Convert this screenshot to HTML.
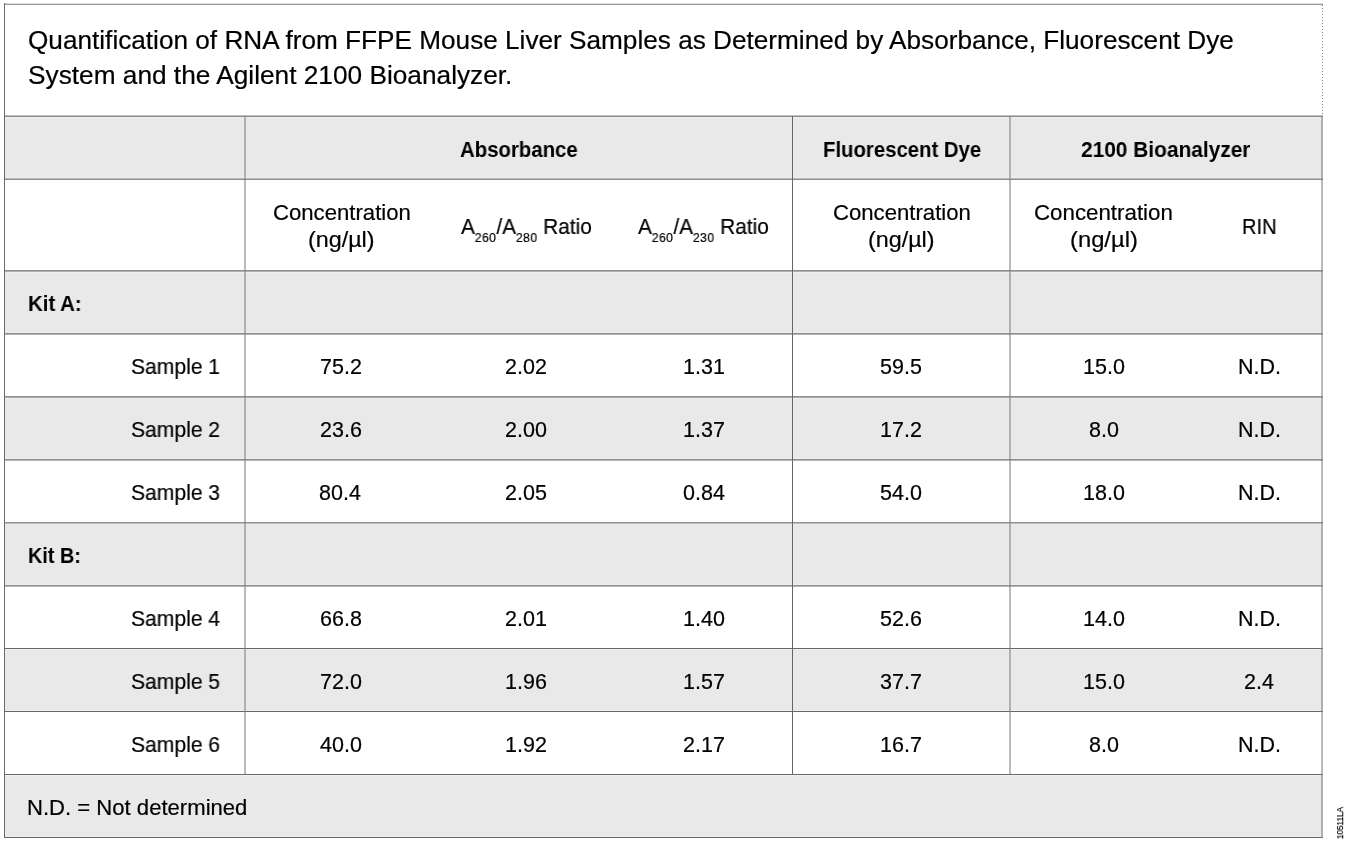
<!DOCTYPE html><html><head><meta charset="utf-8"><style>html,body{margin:0;padding:0;background:#fff;width:1350px;height:846px;overflow:hidden;position:relative}
.t{position:absolute;white-space:nowrap;will-change:transform;-webkit-text-stroke:0.2px #000;font-family:"Liberation Sans",sans-serif;color:#000;transform-origin:0 0}
</style></head><body><div style="position:absolute;left:4px;top:116px;width:1319px;height:63px;background:#e9e9e9"></div><div style="position:absolute;left:4px;top:270px;width:1319px;height:63px;background:#e9e9e9"></div><div style="position:absolute;left:4px;top:396px;width:1319px;height:63px;background:#e9e9e9"></div><div style="position:absolute;left:4px;top:522px;width:1319px;height:63px;background:#e9e9e9"></div><div style="position:absolute;left:4px;top:648px;width:1319px;height:63px;background:#e9e9e9"></div><div style="position:absolute;left:4px;top:774px;width:1319px;height:63px;background:#e9e9e9"></div><div style="position:absolute;left:4px;top:3px;width:1319px;height:1px;background:#dcdcdc"></div><div style="position:absolute;left:4px;top:4px;width:1319px;height:1px;background:#989898"></div><div style="position:absolute;left:5px;top:117px;width:1316px;height:1px;background:#f0f0f0"></div><div style="position:absolute;left:4px;top:115px;width:1319px;height:1px;background:#c0c0c0"></div><div style="position:absolute;left:4px;top:116px;width:1319px;height:1px;background:#8c8c8c"></div><div style="position:absolute;left:5px;top:177px;width:1316px;height:1px;background:#f0f0f0"></div><div style="position:absolute;left:4px;top:178px;width:1319px;height:1px;background:#bbbbbb"></div><div style="position:absolute;left:4px;top:179px;width:1319px;height:1px;background:#8e8e8e"></div><div style="position:absolute;left:5px;top:272px;width:1316px;height:1px;background:#f0f0f0"></div><div style="position:absolute;left:4px;top:271px;width:1319px;height:1px;background:#aeaeae"></div><div style="position:absolute;left:4px;top:270px;width:1319px;height:1px;background:#8f8f8f"></div><div style="position:absolute;left:5px;top:332px;width:1316px;height:1px;background:#f0f0f0"></div><div style="position:absolute;left:4px;top:334px;width:1319px;height:1px;background:#b5b5b5"></div><div style="position:absolute;left:4px;top:333px;width:1319px;height:1px;background:#8a8a8a"></div><div style="position:absolute;left:5px;top:398px;width:1316px;height:1px;background:#f0f0f0"></div><div style="position:absolute;left:4px;top:397px;width:1319px;height:1px;background:#aaaaaa"></div><div style="position:absolute;left:4px;top:396px;width:1319px;height:1px;background:#919191"></div><div style="position:absolute;left:5px;top:458px;width:1316px;height:1px;background:#f0f0f0"></div><div style="position:absolute;left:4px;top:460px;width:1319px;height:1px;background:#b5b5b5"></div><div style="position:absolute;left:4px;top:459px;width:1319px;height:1px;background:#8e8e8e"></div><div style="position:absolute;left:5px;top:524px;width:1316px;height:1px;background:#f0f0f0"></div><div style="position:absolute;left:4px;top:523px;width:1319px;height:1px;background:#bbbbbb"></div><div style="position:absolute;left:4px;top:522px;width:1319px;height:1px;background:#939393"></div><div style="position:absolute;left:5px;top:584px;width:1316px;height:1px;background:#f0f0f0"></div><div style="position:absolute;left:4px;top:586px;width:1319px;height:1px;background:#b8b8b8"></div><div style="position:absolute;left:4px;top:585px;width:1319px;height:1px;background:#8f8f8f"></div><div style="position:absolute;left:5px;top:649px;width:1316px;height:1px;background:#f0f0f0"></div><div style="position:absolute;left:4px;top:648px;width:1319px;height:1px;background:#686868"></div><div style="position:absolute;left:5px;top:710px;width:1316px;height:1px;background:#f0f0f0"></div><div style="position:absolute;left:4px;top:711px;width:1319px;height:1px;background:#666666"></div><div style="position:absolute;left:5px;top:775px;width:1316px;height:1px;background:#f0f0f0"></div><div style="position:absolute;left:4px;top:774px;width:1319px;height:1px;background:#6a6a6a"></div><div style="position:absolute;left:5px;top:836px;width:1316px;height:1px;background:#f0f0f0"></div><div style="position:absolute;left:4px;top:837px;width:1319px;height:1px;background:#666666"></div><div style="position:absolute;left:4px;top:3px;width:1px;height:835px;background:#6a6a6a"></div><div style="position:absolute;left:1321px;top:116px;width:2px;height:722px;background:rgba(129,129,129,0.55)"></div><div style="position:absolute;left:1322px;top:5px;width:1px;height:111px;background:repeating-linear-gradient(to bottom,#8a8a8a 0,#8a8a8a 1px,transparent 1px,transparent 3px)"></div><div style="position:absolute;left:244px;top:116px;width:2px;height:658px;background:rgba(129,129,129,0.55)"></div><div style="position:absolute;left:792px;top:116px;width:1px;height:658px;background:#676767"></div><div style="position:absolute;left:1009px;top:116px;width:2px;height:658px;background:rgba(129,129,129,0.55)"></div><div class="t" style="left:27.57px;top:28.00px;font-size:25.00px;line-height:25.00px;font-weight:normal;transform:scaleX(1.0468)">Quantification of RNA from FFPE Mouse Liver Samples as Determined by Absorbance, Fluorescent Dye</div><div class="t" style="left:27.57px;top:63.00px;font-size:25.00px;line-height:25.00px;font-weight:normal;transform:scaleX(1.0498)">System and the Agilent 2100 Bioanalyzer.</div><div class="t" style="left:459.64px;top:140.00px;font-size:21.50px;line-height:21.50px;font-weight:bold;-webkit-text-stroke:0;transform:scaleX(0.9476)">Absorbance</div><div class="t" style="left:822.63px;top:140.00px;font-size:21.50px;line-height:21.50px;font-weight:bold;-webkit-text-stroke:0;transform:scaleX(0.9461)">Fluorescent Dye</div><div class="t" style="left:1081.03px;top:140.00px;font-size:21.50px;line-height:21.50px;font-weight:bold;-webkit-text-stroke:0;transform:scaleX(0.9711)">2100 Bioanalyzer</div><div class="t" style="left:272.58px;top:203.00px;font-size:21.50px;line-height:21.50px;font-weight:normal;transform:scaleX(1.0296)">Concentration</div><div class="t" style="left:307.73px;top:230.00px;font-size:21.50px;line-height:21.50px;font-weight:normal;transform:scaleX(1.0847)">(ng/&micro;l)</div><div class="t" style="left:832.58px;top:203.00px;font-size:21.50px;line-height:21.50px;font-weight:normal;transform:scaleX(1.0296)">Concentration</div><div class="t" style="left:867.73px;top:230.00px;font-size:21.50px;line-height:21.50px;font-weight:normal;transform:scaleX(1.0847)">(ng/&micro;l)</div><div class="t" style="left:1034.35px;top:203.00px;font-size:21.50px;line-height:21.50px;font-weight:normal;transform:scaleX(1.0371)">Concentration</div><div class="t" style="left:1070.07px;top:230.00px;font-size:21.50px;line-height:21.50px;font-weight:normal;transform:scaleX(1.1052)">(ng/&micro;l)</div><div class="t" style="left:1242.13px;top:217.00px;font-size:21.50px;line-height:21.50px;font-weight:normal;transform:scaleX(0.9338)">RIN</div><div class="t" style="left:460.60px;top:217.00px;font-size:21.50px;line-height:21.50px;font-weight:normal;transform:scaleX(0.9694)">A<span style="font-size:12.5px;letter-spacing:0.4px;position:relative;top:7.5px">260</span>/A<span style="font-size:12.5px;letter-spacing:0.4px;position:relative;top:7.5px">280</span> Ratio</div><div class="t" style="left:638.19px;top:217.00px;font-size:21.50px;line-height:21.50px;font-weight:normal;transform:scaleX(0.9694)">A<span style="font-size:12.5px;letter-spacing:0.4px;position:relative;top:7.5px">260</span>/A<span style="font-size:12.5px;letter-spacing:0.4px;position:relative;top:7.5px">230</span> Ratio</div><div class="t" style="left:28.26px;top:294.00px;font-size:21.50px;line-height:21.50px;font-weight:bold;-webkit-text-stroke:0;transform:scaleX(0.9510)">Kit A:</div><div class="t" style="left:28.29px;top:546.00px;font-size:21.50px;line-height:21.50px;font-weight:bold;-webkit-text-stroke:0;transform:scaleX(0.9204)">Kit B:</div><div class="t" style="left:26.93px;top:798.00px;font-size:21.50px;line-height:21.50px;font-weight:normal;transform:scaleX(1.0275)">N.D. = Not determined</div><div class="t" style="left:131.21px;top:357.00px;font-size:21.50px;line-height:21.50px;font-weight:normal;transform:scaleX(0.9809)">Sample 1</div><div class="t" style="left:319.80px;top:357.00px;font-size:21.50px;line-height:21.50px;font-weight:normal;transform:scaleX(1.0000)">75.2</div><div class="t" style="left:504.80px;top:357.00px;font-size:21.50px;line-height:21.50px;font-weight:normal;transform:scaleX(1.0000)">2.02</div><div class="t" style="left:683.00px;top:357.00px;font-size:21.50px;line-height:21.50px;font-weight:normal;transform:scaleX(1.0000)">1.31</div><div class="t" style="left:880.00px;top:357.00px;font-size:21.50px;line-height:21.50px;font-weight:normal;transform:scaleX(1.0000)">59.5</div><div class="t" style="left:1082.80px;top:357.00px;font-size:21.50px;line-height:21.50px;font-weight:normal;transform:scaleX(1.0000)">15.0</div><div class="t" style="left:1238.10px;top:357.00px;font-size:21.50px;line-height:21.50px;font-weight:normal;transform:scaleX(1.0000)">N.D.</div><div class="t" style="left:131.21px;top:420.00px;font-size:21.50px;line-height:21.50px;font-weight:normal;transform:scaleX(0.9809)">Sample 2</div><div class="t" style="left:319.80px;top:420.00px;font-size:21.50px;line-height:21.50px;font-weight:normal;transform:scaleX(1.0000)">23.6</div><div class="t" style="left:504.80px;top:420.00px;font-size:21.50px;line-height:21.50px;font-weight:normal;transform:scaleX(1.0000)">2.00</div><div class="t" style="left:683.00px;top:420.00px;font-size:21.50px;line-height:21.50px;font-weight:normal;transform:scaleX(1.0000)">1.37</div><div class="t" style="left:880.00px;top:420.00px;font-size:21.50px;line-height:21.50px;font-weight:normal;transform:scaleX(1.0000)">17.2</div><div class="t" style="left:1088.80px;top:420.00px;font-size:21.50px;line-height:21.50px;font-weight:normal;transform:scaleX(1.0000)">8.0</div><div class="t" style="left:1238.10px;top:420.00px;font-size:21.50px;line-height:21.50px;font-weight:normal;transform:scaleX(1.0000)">N.D.</div><div class="t" style="left:131.21px;top:483.00px;font-size:21.50px;line-height:21.50px;font-weight:normal;transform:scaleX(0.9809)">Sample 3</div><div class="t" style="left:319.30px;top:483.00px;font-size:21.50px;line-height:21.50px;font-weight:normal;transform:scaleX(1.0000)">80.4</div><div class="t" style="left:504.80px;top:483.00px;font-size:21.50px;line-height:21.50px;font-weight:normal;transform:scaleX(1.0000)">2.05</div><div class="t" style="left:682.50px;top:483.00px;font-size:21.50px;line-height:21.50px;font-weight:normal;transform:scaleX(1.0000)">0.84</div><div class="t" style="left:880.00px;top:483.00px;font-size:21.50px;line-height:21.50px;font-weight:normal;transform:scaleX(1.0000)">54.0</div><div class="t" style="left:1082.80px;top:483.00px;font-size:21.50px;line-height:21.50px;font-weight:normal;transform:scaleX(1.0000)">18.0</div><div class="t" style="left:1238.10px;top:483.00px;font-size:21.50px;line-height:21.50px;font-weight:normal;transform:scaleX(1.0000)">N.D.</div><div class="t" style="left:131.21px;top:609.00px;font-size:21.50px;line-height:21.50px;font-weight:normal;transform:scaleX(0.9809)">Sample 4</div><div class="t" style="left:319.80px;top:609.00px;font-size:21.50px;line-height:21.50px;font-weight:normal;transform:scaleX(1.0000)">66.8</div><div class="t" style="left:504.80px;top:609.00px;font-size:21.50px;line-height:21.50px;font-weight:normal;transform:scaleX(1.0000)">2.01</div><div class="t" style="left:683.00px;top:609.00px;font-size:21.50px;line-height:21.50px;font-weight:normal;transform:scaleX(1.0000)">1.40</div><div class="t" style="left:880.00px;top:609.00px;font-size:21.50px;line-height:21.50px;font-weight:normal;transform:scaleX(1.0000)">52.6</div><div class="t" style="left:1082.80px;top:609.00px;font-size:21.50px;line-height:21.50px;font-weight:normal;transform:scaleX(1.0000)">14.0</div><div class="t" style="left:1238.10px;top:609.00px;font-size:21.50px;line-height:21.50px;font-weight:normal;transform:scaleX(1.0000)">N.D.</div><div class="t" style="left:131.21px;top:672.00px;font-size:21.50px;line-height:21.50px;font-weight:normal;transform:scaleX(0.9809)">Sample 5</div><div class="t" style="left:319.80px;top:672.00px;font-size:21.50px;line-height:21.50px;font-weight:normal;transform:scaleX(1.0000)">72.0</div><div class="t" style="left:504.80px;top:672.00px;font-size:21.50px;line-height:21.50px;font-weight:normal;transform:scaleX(1.0000)">1.96</div><div class="t" style="left:683.00px;top:672.00px;font-size:21.50px;line-height:21.50px;font-weight:normal;transform:scaleX(1.0000)">1.57</div><div class="t" style="left:880.00px;top:672.00px;font-size:21.50px;line-height:21.50px;font-weight:normal;transform:scaleX(1.0000)">37.7</div><div class="t" style="left:1082.80px;top:672.00px;font-size:21.50px;line-height:21.50px;font-weight:normal;transform:scaleX(1.0000)">15.0</div><div class="t" style="left:1244.10px;top:672.00px;font-size:21.50px;line-height:21.50px;font-weight:normal;transform:scaleX(1.0000)">2.4</div><div class="t" style="left:131.21px;top:735.00px;font-size:21.50px;line-height:21.50px;font-weight:normal;transform:scaleX(0.9809)">Sample 6</div><div class="t" style="left:320.30px;top:735.00px;font-size:21.50px;line-height:21.50px;font-weight:normal;transform:scaleX(1.0000)">40.0</div><div class="t" style="left:504.80px;top:735.00px;font-size:21.50px;line-height:21.50px;font-weight:normal;transform:scaleX(1.0000)">1.92</div><div class="t" style="left:683.00px;top:735.00px;font-size:21.50px;line-height:21.50px;font-weight:normal;transform:scaleX(1.0000)">2.17</div><div class="t" style="left:880.00px;top:735.00px;font-size:21.50px;line-height:21.50px;font-weight:normal;transform:scaleX(1.0000)">16.7</div><div class="t" style="left:1088.80px;top:735.00px;font-size:21.50px;line-height:21.50px;font-weight:normal;transform:scaleX(1.0000)">8.0</div><div class="t" style="left:1238.10px;top:735.00px;font-size:21.50px;line-height:21.50px;font-weight:normal;transform:scaleX(1.0000)">N.D.</div><div style="position:absolute;left:1339.7px;top:822.9px;font-family:'Liberation Sans',sans-serif;font-weight:normal;font-size:9.5px;line-height:10px;white-space:nowrap;will-change:transform;-webkit-text-stroke:0.25px #111;transform:translate(-50%,-50%) rotate(-90deg) scaleX(0.86);color:#111">10511LA</div></body></html>
